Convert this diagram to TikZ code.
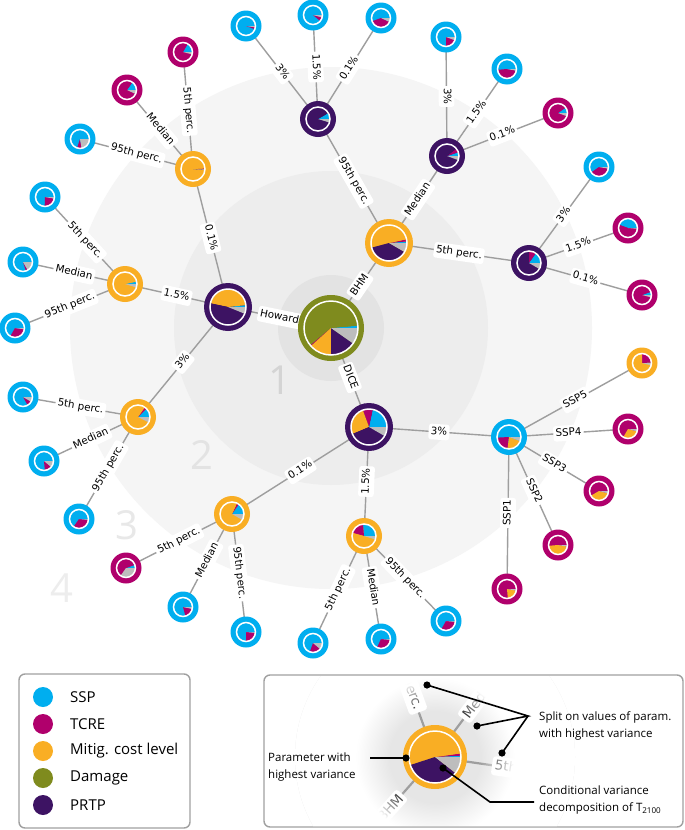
\documentclass[tikz,border=0pt]{standalone}
\usepackage{fontspec}
\setmainfont{DejaVu Sans}
\newfontfamily\osans{Open Sans}
\usetikzlibrary{fadings}
\definecolor{cy}{HTML}{00AEEF}
\definecolor{mg}{HTML}{B0006C}
\definecolor{og}{HTML}{F9AE24}
\definecolor{gn}{HTML}{7F8B1E}
\definecolor{pu}{HTML}{3D1363}
\definecolor{gy}{HTML}{BDBDBD}
\definecolor{edgec}{HTML}{9E9E9E}
\definecolor{ringa}{HTML}{E3E3E3}
\definecolor{ringb}{HTML}{EDEDED}
\definecolor{ringc}{HTML}{F5F5F5}
\definecolor{boxc}{HTML}{A0A0A0}
\definecolor{insetbg}{HTML}{E6E6E6}
\pgfdeclarelayer{back}
\pgfdeclarelayer{edges}
\pgfsetlayers{back,edges,main}
\pgfdeclareradialshading{ringshade}{\pgfpointorigin}{color(0bp)=(black); color(8bp)=(black); color(14bp)=(white); color(25bp)=(white); color(50bp)=(white)}
\pgfdeclarefading{ringfade}{\pgfuseshading{ringshade}}
\newcommand{\pienode}[6]{%
  \node[circle, fill=#5, minimum size=2*#4pt, inner sep=0pt, draw=none] (#1) at (#2,#3) {};
  \pgfmathsetmacro\pr{#4-6.4}%
  \pgfmathsetmacro\wr{#4-6.0}%
  \foreach \a/\b/\c in {#6} {\fill[\c] (#1.center) -- ++(\a:\pr pt) arc[start angle=\a, end angle=\b, radius=\pr pt] -- cycle;}
  \draw[white, line width=1.5pt] (#1.center) circle[radius=\wr pt];
}
\tikzset{
  edge/.style={draw=edgec, line width=1.4pt},
  elab/.style={fill=white, rounded corners=2.5pt, inner xsep=2.2pt, inner ysep=2.8pt, text height=7.6pt, text depth=2.4pt, font=\fontsize{10.3}{12}\selectfont, sloped},
  ilab/.style={fill=white, rounded corners=3pt, inner xsep=3pt, inner ysep=3pt, font=\fontsize{13.5}{15}\selectfont},
  iedge/.style={draw=edgec, line width=2.2pt},
  legtext/.style={anchor=west, inner sep=0pt, font=\osans\fontsize{15}{18}\selectfont},
  itext/.style={inner sep=0pt, align=left, font=\osans\fontsize{11.5}{16.7}\selectfont},
  dotb/.style={circle, fill=black, minimum size=7.2pt, inner sep=0pt},
  callout/.style={draw=black, line width=1.6pt},
  digit/.style={font=\osans\fontsize{40}{40}\selectfont}
}
\begin{document}
\begin{tikzpicture}[x=1pt, y=-1pt]
\useasboundingbox (0,0) rectangle (685,830);
% ---------- nodes ----------
\pienode{R}{331}{328}{33}{gn}{0/5/cy, 5/220/gn, 220/222/mg, 222/270/og, 270/325/pu, 325/360/gy}
\pienode{A}{228}{307}{24}{pu}{0/6/cy, 6/168/og, 168/338/pu, 338/360/gy}
\pienode{B}{389}{243}{24}{og}{0/5/cy, 5/12/mg, 12/195/og, 195/330/pu, 330/360/gy}
\pienode{C}{369}{427}{24}{pu}{0/78/cy, 78/110/mg, 110/203/og, 203/330/pu, 330/360/gy}
\pienode{A1}{193}{169}{18}{og}{0/3/mg, 3/355/og, 355/357/pu, 357/360/gy}
\pienode{A2}{125}{284}{18}{og}{0/12/cy, 12/343/og, 343/360/gy}
\pienode{A3}{138}{417}{18}{og}{0/45/cy, 45/55/mg, 55/333/og, 333/360/gy}
\pienode{B1}{318}{119}{18}{pu}{0/30/cy, 30/343/pu, 343/360/gy}
\pienode{B2}{447}{156}{18}{pu}{0/18/cy, 18/38/mg, 38/340/pu, 340/360/gy}
\pienode{B3}{529}{263}{18}{pu}{0/55/cy, 55/90/mg, 90/330/pu, 330/360/gy}
\pienode{C1}{509}{437}{18}{cy}{0/183/cy, 183/263/mg, 263/340/og, 340/360/gy}
\pienode{C2}{364}{536}{18}{og}{0/95/cy, 95/165/mg, 165/343/og, 343/360/gy}
\pienode{C3}{232}{514}{18}{og}{0/55/cy, 55/65/mg, 65/330/og, 330/360/gy}
\pienode{l1}{183}{52}{15.5}{mg}{0/60/cy, 60/345/mg, 345/360/gy}
\pienode{l2}{127}{90}{15.5}{mg}{0/55/cy, 55/335/mg, 335/360/gy}
\pienode{l3}{80}{139}{15.5}{cy}{0/252/cy, 252/280/mg, 280/360/gy}
\pienode{l4}{45}{197}{15.5}{cy}{0/268/cy, 268/350/mg, 350/360/gy}
\pienode{l5}{23}{262}{15.5}{cy}{0/288/cy, 288/300/mg, 300/360/gy}
\pienode{l6}{15}{328}{15.5}{cy}{0/240/cy, 240/352/mg, 352/360/gy}
\pienode{l7}{23}{397}{15.5}{cy}{0/300/cy, 300/330/mg, 330/360/gy}
\pienode{l8}{44}{461}{15.5}{cy}{0/275/cy, 275/320/mg, 320/360/gy}
\pienode{l9}{79}{519}{15.5}{cy}{0/235/cy, 235/355/mg, 355/360/gy}
\pienode{l10}{126}{568}{15.5}{mg}{0/20/cy, 20/235/mg, 235/360/gy}
\pienode{l11}{183}{607}{15.5}{cy}{0/285/cy, 285/348/mg, 348/360/gy}
\pienode{l12}{246}{632}{15.5}{cy}{0/270/cy, 270/355/mg, 355/360/gy}
\pienode{l13}{313}{643}{15.5}{cy}{0/250/cy, 250/320/mg, 320/360/gy}
\pienode{l14}{381}{639}{15.5}{cy}{0/245/cy, 245/355/mg, 355/360/gy}
\pienode{l15}{446}{621}{15.5}{cy}{0/240/cy, 240/355/mg, 355/360/gy}
\pienode{l16}{507}{589}{15.5}{mg}{0/275/mg, 275/350/og, 350/360/gy}
\pienode{l17}{558}{545}{15.5}{mg}{0/185/mg, 185/350/og, 350/360/gy}
\pienode{l18}{599}{491}{15.5}{mg}{0/210/mg, 210/345/og, 345/360/gy}
\pienode{l19}{628}{429}{15.5}{mg}{0/240/mg, 240/345/og, 345/360/gy}
\pienode{l20}{642}{363}{15.5}{og}{0/3/cy, 3/90/mg, 90/345/og, 345/360/gy}
\pienode{l21}{246}{26}{15.5}{cy}{0/340/cy, 340/352/mg, 352/360/gy}
\pienode{l22}{313}{15}{15.5}{cy}{0/320/cy, 320/345/mg, 345/360/gy}
\pienode{l23}{381}{18}{15.5}{cy}{0/200/cy, 200/335/mg, 335/360/gy}
\pienode{l24}{446}{37}{15.5}{cy}{0/270/cy, 270/340/mg, 340/360/gy}
\pienode{l25}{507}{69}{15.5}{cy}{0/185/cy, 185/350/mg, 350/360/gy}
\pienode{l26}{558}{113}{15.5}{mg}{0/35/cy, 35/340/mg, 340/360/gy}
\pienode{l27}{599}{167}{15.5}{cy}{0/215/cy, 215/350/mg, 350/360/gy}
\pienode{l28}{628}{228}{15.5}{mg}{0/160/cy, 160/355/mg, 355/360/gy}
\pienode{l29}{642}{295}{15.5}{mg}{0/20/cy, 20/345/mg, 345/360/gy}
% ---------- background rings ----------
\begin{pgfonlayer}{back}
\fill[white] (0,0) rectangle (685,830);
\fill[ringc] (331,328) circle[radius=261pt];
\fill[ringb] (331,328) circle[radius=157pt];
\fill[ringa] (331,328) circle[radius=53pt];
\node[digit, text=black!17] (n1) at (280,380) {1};
\node[digit, text=black!11] (n2) at (202,455) {2};
\node[digit, text=black!9] (n3) at (127,525) {3};
\node[digit, text=black!7] (n4) at (62,588) {4};
\end{pgfonlayer}
% ---------- edges ----------
\begin{pgfonlayer}{edges}
\draw[edge] (R.center) -- node[elab]{Howard} (A.center);
\draw[edge] (R.center) -- node[elab]{BHM} (B.center);
\draw[edge] (R.center) -- node[elab]{DICE} (C.center);
\draw[edge] (A.center) -- node[elab]{0.1\%} (A1.center);
\draw[edge] (A.center) -- node[elab]{1.5\%} (A2.center);
\draw[edge] (A.center) -- node[elab]{3\%} (A3.center);
\draw[edge] (B.center) -- node[elab]{95th perc.} (B1.center);
\draw[edge] (B.center) -- node[elab]{Median} (B2.center);
\draw[edge] (B.center) -- node[elab]{5th perc.} (B3.center);
\draw[edge] (C.center) -- node[elab]{3\%} (C1.center);
\draw[edge] (C.center) -- node[elab]{1.5\%} (C2.center);
\draw[edge] (C.center) -- node[elab]{0.1\%} (C3.center);
\draw[edge] (A1.center) -- node[elab]{5th perc.} (l1.center);
\draw[edge] (A1.center) -- node[elab]{Median} (l2.center);
\draw[edge] (A1.center) -- node[elab]{95th perc.} (l3.center);
\draw[edge] (A2.center) -- node[elab]{5th perc.} (l4.center);
\draw[edge] (A2.center) -- node[elab]{Median} (l5.center);
\draw[edge] (A2.center) -- node[elab]{95th perc.} (l6.center);
\draw[edge] (A3.center) -- node[elab]{5th perc.} (l7.center);
\draw[edge] (A3.center) -- node[elab]{Median} (l8.center);
\draw[edge] (A3.center) -- node[elab]{95th perc.} (l9.center);
\draw[edge] (C3.center) -- node[elab]{5th perc.} (l10.center);
\draw[edge] (C3.center) -- node[elab]{Median} (l11.center);
\draw[edge] (C3.center) -- node[elab]{95th perc.} (l12.center);
\draw[edge] (C2.center) -- node[elab]{5th perc.} (l13.center);
\draw[edge] (C2.center) -- node[elab]{Median} (l14.center);
\draw[edge] (C2.center) -- node[elab]{95th perc.} (l15.center);
\draw[edge] (C1.center) -- node[elab]{SSP1} (l16.center);
\draw[edge] (C1.center) -- node[elab]{SSP2} (l17.center);
\draw[edge] (C1.center) -- node[elab]{SSP3} (l18.center);
\draw[edge] (C1.center) -- node[elab]{SSP4} (l19.center);
\draw[edge] (C1.center) -- node[elab]{SSP5} (l20.center);
\draw[edge] (B1.center) -- node[elab]{3\%} (l21.center);
\draw[edge] (B1.center) -- node[elab]{1.5\%} (l22.center);
\draw[edge] (B1.center) -- node[elab]{0.1\%} (l23.center);
\draw[edge] (B2.center) -- node[elab]{3\%} (l24.center);
\draw[edge] (B2.center) -- node[elab]{1.5\%} (l25.center);
\draw[edge] (B2.center) -- node[elab]{0.1\%} (l26.center);
\draw[edge] (B3.center) -- node[elab]{3\%} (l27.center);
\draw[edge] (B3.center) -- node[elab]{1.5\%} (l28.center);
\draw[edge] (B3.center) -- node[elab]{0.1\%} (l29.center);
\end{pgfonlayer}
% ---------- legend ----------
\draw[boxc, line width=1.4pt, rounded corners=6pt] (19,674) rectangle (190,828);
\foreach \y/\c/\t in {697/cy/SSP, 724/mg/TCRE, 751/og/Mitig. cost level, 778/gn/Damage, 805/pu/PRTP} {
  \node[circle, fill=\c, minimum size=20pt, inner sep=0pt] (leg\c) at (43,\y) {};
  \node[legtext] (legt\c) at (70,\y) {\t};
}
% ---------- inset ----------
\draw[boxc, line width=1.4pt, rounded corners=6pt] (264,675) rectangle (683,827);
\coordinate (IC) at (435,757);
\coordinate (q1) at (406,677);
\coordinate (q2) at (480,697);
\coordinate (q3) at (525,770);
\coordinate (q4) at (390,808);
\begin{scope}
  \clip[rounded corners=6pt] (265,676) rectangle (682,826);
  \fill[insetbg] (IC) circle[radius=140pt];
  \draw[iedge] (IC) -- (q1);
  \draw[iedge] (IC) -- (q2);
  \draw[iedge] (IC) -- (q3);
  \draw[iedge] (IC) -- (q4);
  \node[ilab, rotate=-70] (il1) at (q1) {95th perc.};
  \node[ilab, rotate=53] (il2) at (q2) {Median};
  \node[ilab, rotate=-8] (il3) at (q3) {5th perc.};
  \node[ilab, rotate=48] (il4) at (q4) {BHM};
  \fill[white, path fading=ringfade] (IC) circle[radius=140pt];
\end{scope}
\pienode{IN}{435}{757}{32}{og}{0/3/cy, 3/8/mg, 8/198/og, 198/322/pu, 322/360/gy}
\node[dotb] (d1) at (427,685) {};
\node[dotb] (d2) at (477,726) {};
\node[dotb] (d3) at (502,753) {};
\node[dotb] (d4) at (406,758) {};
\node[dotb] (d5) at (443,768) {};
\coordinate (J) at (528,716);
\coordinate (p4) at (370,758);
\coordinate (k1) at (490,802);
\coordinate (k2) at (534,802);
\draw[callout] (d1.center) -- (J) -- (d2.center);
\draw[callout] (J) -- (d3.center);
\draw[callout] (p4) -- (d4.center);
\draw[callout] (d5.center) -- (k1) -- (k2);
\node[itext, anchor=west] (t1) at (539,726) {Split on values of param.\\with highest variance};
\node[itext, anchor=west] (t2) at (268,767) {Parameter with\\highest variance};
\node[itext, anchor=west] (t3) at (539,800) {Conditional variance\\decomposition of T\textsubscript{2100}};
\end{tikzpicture}
\end{document}
